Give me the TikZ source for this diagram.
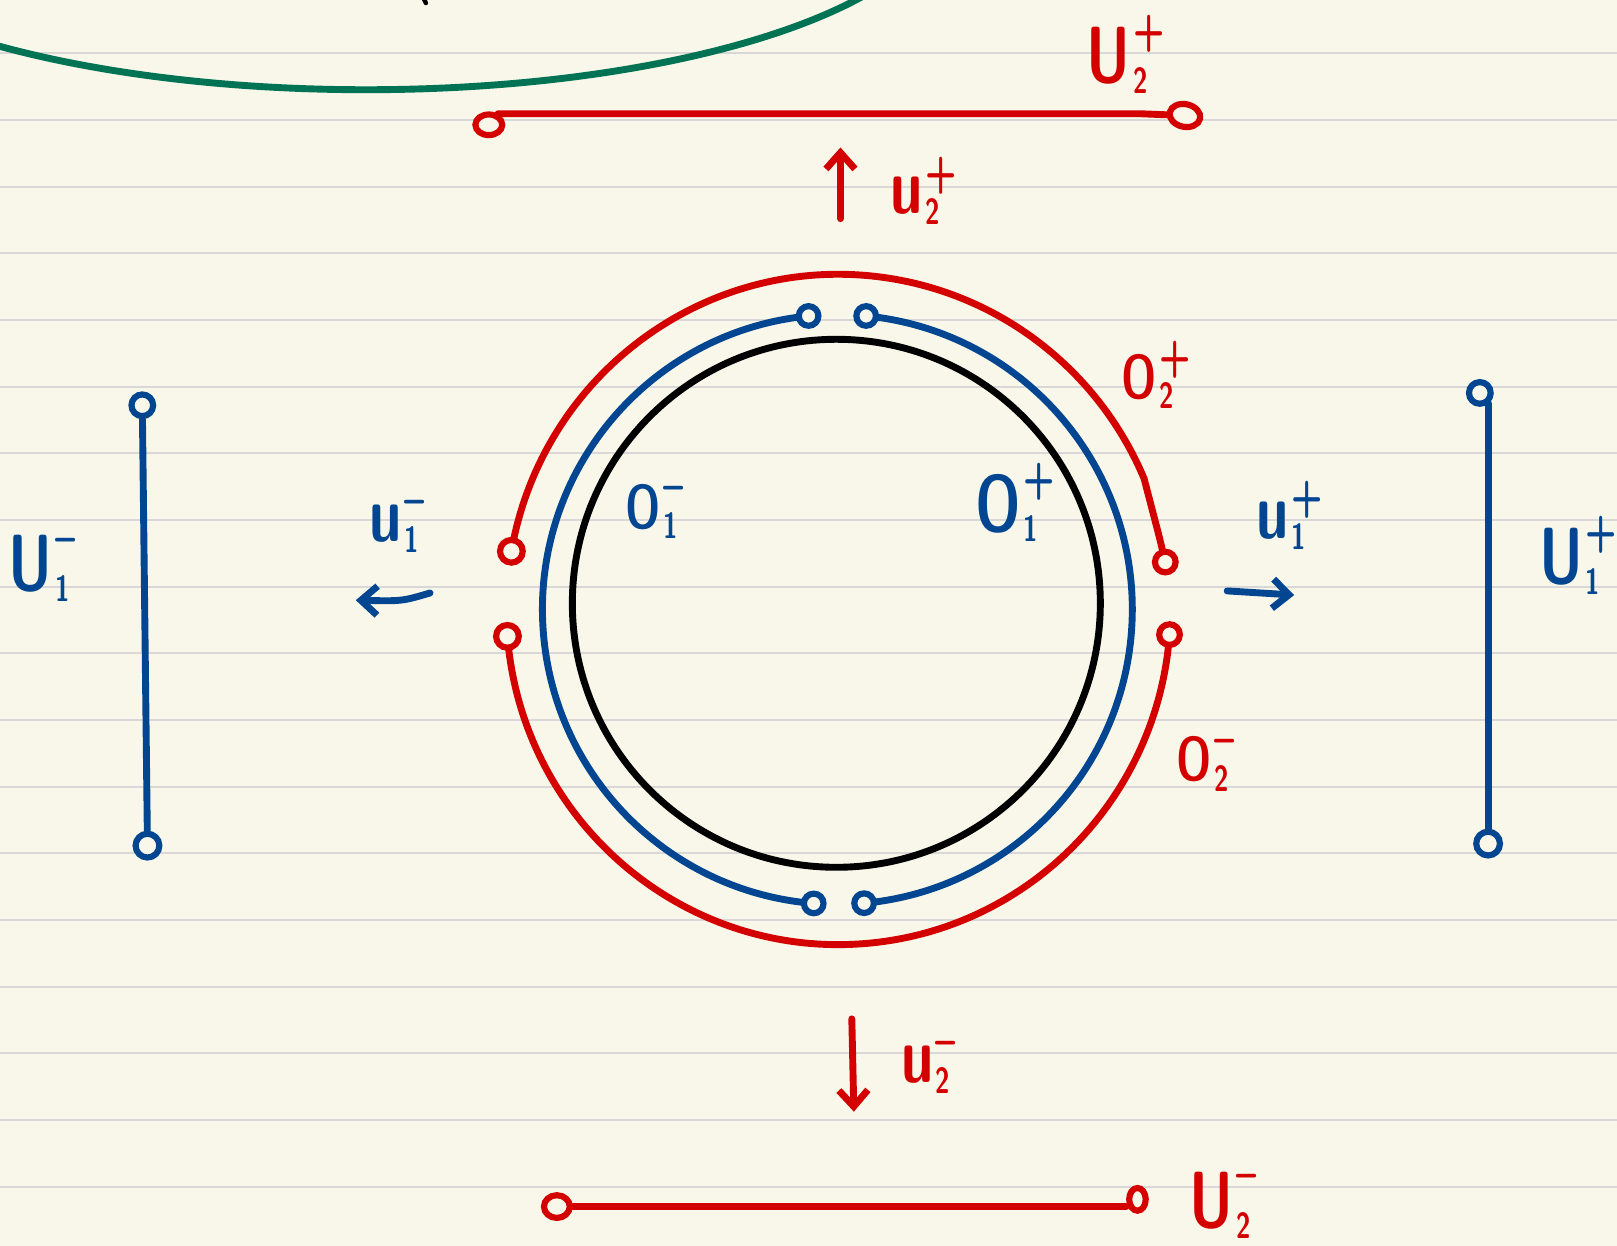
\documentclass[tikz,border=0pt]{standalone}
\usepackage{graphicx}
\usetikzlibrary{arrows.meta, shapes.geometric, calc}
\definecolor{penRed}{RGB}{212,0,0}
\definecolor{penBlue}{RGB}{2,70,145}
\definecolor{penGreen}{RGB}{0,115,85}
\definecolor{paper}{RGB}{249,247,234}
\definecolor{ruleGray}{RGB}{216,216,216}

\newcommand{\hwsub}{\fontsize{10}{10}\selectfont}
\newcommand{\hwsup}{\fontsize{14}{14}\selectfont}
% letter, subscript, superscript (optional: height of the superscript)
\newcommand{\hw}[4][7pt]{\scalebox{0.72}[1]{#2\kern1pt\rlap{\raisebox{-3pt}{\hwsub #3}}\raisebox{#1}{\hwsup #4}}}

\begin{document}
\begin{tikzpicture}[x=0.01cm, y=0.01cm,
    pen/.style={line width=1.9pt, line cap=round, line join=round},
    redpen/.style={pen, penRed},
    bluepen/.style={pen, penBlue},
    dot/.style={circle, draw, fill=paper, line width=1.7pt, inner sep=0pt, minimum size=0.19cm},
    reddot/.style={dot, draw=penRed, minimum size=0.22cm},
    bluedot/.style={dot, draw=penBlue},
    oval/.style={ellipse, draw=penRed, fill=paper, line width=1.7pt, inner sep=0pt},
    sym/.style={font=\sffamily\bfseries\fontsize{22}{24}\selectfont, inner sep=0pt, anchor=base west},
    symsm/.style={sym, font=\sffamily\bfseries\fontsize{17}{19}\selectfont},
    arr/.style={-{Straight Barb[length=4.5pt, width=8pt]}}]
  \useasboundingbox (0,0) rectangle (1568,-1208);
  % paper and ruling
  \fill[paper] (0,0) rectangle (1568,-1208);
  \foreach \k in {0,...,17}
    \draw[ruleGray, line width=0.6pt] (0,{-51.7-64.65*\k}) -- (1568,{-51.7-64.65*\k});

  % green curve from the previous drawing
  \begin{scope}
    \clip (0,0) rectangle (1568,-1208);
    \draw[pen, penGreen] (355,100) ellipse [x radius=562, y radius=187];
    \draw[line width=1.2pt, line cap=round] (411,1) -- (413,-3);
  \end{scope}

  % centres
  \coordinate (cR) at (813,-591);
  \coordinate (cB) at (812,-591);
  \coordinate (cK) at (811,-585);

  % black circle
  \draw[pen] (cK) circle [radius=256];

  % blue arcs O1+ and O1-
  \coordinate (bNE) at ($(cB)+(84.4:286)$);
  \coordinate (bSE) at ($(cB)+(-84.8:286)$);
  \coordinate (bNW) at ($(cB)+(95.6:286)$);
  \coordinate (bSW) at ($(cB)+(265.4:286)$);
  \draw[bluepen] (bNE) arc [start angle=84.4, end angle=-84.8, radius=286];
  \draw[bluepen] (bNW) arc [start angle=95.6, end angle=265.4, radius=286];
  \node[bluedot] (bNEdot) at (bNE) {};
  \node[bluedot] (bSEdot) at (bSE) {};
  \node[bluedot] (bNWdot) at (bNW) {};
  \node[bluedot] (bSWdot) at (bSW) {};

  % red arcs O2+ and O2-
  \coordinate (rUW) at ($(cR)+(170:322 and 325)$);
  \coordinate (rTail) at (1124,-520);
  \node[reddot, minimum size=0.2cm] (rUEdot) at (1130,-545) {};
  \draw[redpen] (rUW) arc [start angle=170, end angle=23, x radius=322, y radius=325]
    -- (rTail) -- (rUEdot);
  \node[reddot] (rUWdot) at (rUW) {};
  \coordinate (rLW) at ($(cR)+(184.6:322 and 325)$);
  \coordinate (rLE) at ($(cR)+(355.7:322 and 325)$);
  \draw[redpen] (rLW) arc [start angle=184.6, end angle=355.7, x radius=322, y radius=325];
  \node[reddot] (rLWdot) at (rLW) {};
  \node[reddot, minimum size=0.2cm] (rLEdot) at (rLE) {};

  % U2+ segment
  \node[oval, minimum width=0.26cm, minimum height=0.2cm] (u2pL) at (474,-121) {};
  \node[oval, minimum width=0.3cm, minimum height=0.22cm, rotate=-12] (u2pR) at (1149,-112) {};
  \coordinate (u2pK) at (1105,-112);
  \draw[redpen] (u2pL.50) -- (u2pL.50 -| u2pK) -- (u2pR);

  % U2- segment
  \node[oval, minimum width=0.25cm, minimum height=0.22cm] (u2mL) at (540,-1170) {};
  \node[oval, minimum width=0.16cm, minimum height=0.22cm] (u2mR) at (1103,-1163) {};
  \draw[redpen] (u2mL.east) -- (u2mL.east -| u2mR.west);

  % U1- and U1+ segments
  \node[bluedot, minimum size=0.21cm] (v1mT) at (138,-393) {};
  \node[bluedot, minimum size=0.23cm] (v1mB) at (143,-820) {};
  \draw[bluepen] (v1mT) -- (v1mB);
  \node[bluedot, minimum size=0.21cm] (v1pT) at (1435,-381) {};
  \node[bluedot, minimum size=0.23cm] (v1pB) at (1443,-818) {};
  \draw[bluepen] (v1pT.-50) -- (v1pT.-50 |- v1pB.north);

  % arrows
  \coordinate (a2pS) at (815,-212);
  \coordinate (a2pE) at (815,-143);
  \draw[redpen, arr] (a2pS) -- (a2pE);
  \coordinate (a2mS) at (826,-988);
  \coordinate (a2mE) at (828,-1078);
  \draw[redpen, arr] (a2mS) -- (a2mE);
  \coordinate (a1mS) at (417,-575);
  \coordinate (a1mE) at (345,-582);
  \draw[bluepen, arr] (a1mS) .. controls (390,-583) .. (a1mE);
  \coordinate (a1pS) at (1190,-573);
  \coordinate (a1pE) at (1255,-577);
  \draw[bluepen, arr] (a1pS) -- (a1pE);

  % labels
  \node[sym, penRed] (U2p) at (1053,-80) {\hw[10pt]{U}{2}{+}};
  \node[sym, penRed] (u2p) at (863,-207) {\hw{u}{2}{+}};
  \node[symsm, penRed] (O2p) at (1087,-386) {\hw{O}{2}{+}};
  \node[symsm, penRed] (O2m) at (1140,-757) {\hw{O}{2}{--}};
  \node[sym, penRed] (u2m) at (873,-1050) {\hw{u}{2}{--}};
  \node[sym, penRed] (U2m) at (1153,-1190) {\hw[10pt]{U}{2}{--}};
  \node[symsm, penBlue] (O1m) at (606,-512) {\hw{O}{1}{--}};
  \node[sym, penBlue] (O1p) at (945,-515) {\hw[10pt]{O}{1}{+}};
  \node[sym, penBlue] (u1m) at (358,-525) {\hw{u}{1}{--}};
  \node[sym, penBlue] (u1p) at (1218,-522) {\hw{u}{1}{+}};
  \node[sym, penBlue] (U1m) at (8,-573) {\hw[10pt]{U}{1}{--}};
  \node[sym, penBlue] (U1p) at (1492,-566) {\hw[10pt]{U}{1}{+}};
\end{tikzpicture}
\end{document}
